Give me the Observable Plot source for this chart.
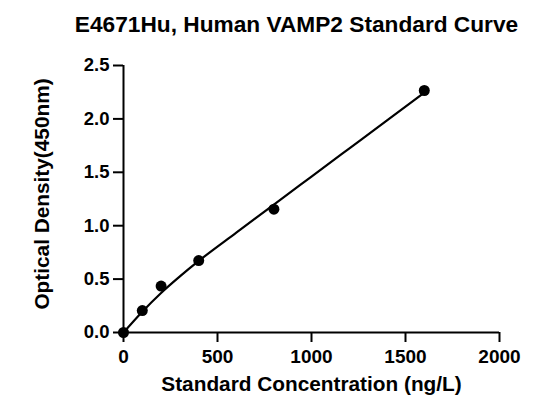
<!DOCTYPE html>
<html>
<head>
<meta charset="utf-8">
<script src="https://cdn.jsdelivr.net/npm/d3@7"></script>
<script src="https://cdn.jsdelivr.net/npm/@observablehq/plot@0.6"></script>
<style>
  html, body { margin: 0; padding: 0; background: #fff; }
  #wrap { width: 557px; height: 405px; font-family: "Liberation Sans", Arial, sans-serif; }
  #title { height: 40px; line-height: 48px; padding-left: 36px; text-align: center; font-weight: bold; font-size: 22.7px; color: #000; white-space: nowrap; }
</style>
</head>
<body>
<div id="wrap">
  <div id="title">E4671Hu, Human VAMP2 Standard Curve</div>
  <div id="chart"></div>
</div>
<script>
const concentration = [0, 100, 200, 400, 800, 1600];
const od = [0.0, 0.205, 0.435, 0.674, 1.155, 2.266];
const fitConc = [0, 100, 200, 300, 400, 600, 800, 1000, 1200, 1400, 1600];
const fitOD = [0, 0.195, 0.37, 0.525, 0.67, 0.935, 1.198, 1.46, 1.722, 1.984, 2.245];
const xTicks = [0, 500, 1000, 1500, 2000];
const yTicks = [0, 0.5, 1, 1.5, 2, 2.5];
const xLabel = "Standard Concentration (ng/L)";
const yLabel = "Optical Density(450nm)";

const points = concentration.map((c, i) => ({x: c, y: od[i]}));
const fit = fitConc.map((c, i) => ({x: c, y: fitOD[i]}));

const chart = Plot.plot({
  width: 557,
  height: 365,
  marginLeft: 123,
  marginRight: 58,
  marginTop: 25,
  marginBottom: 73,
  style: {fontFamily: '"Liberation Sans", Arial, sans-serif', color: "#000", background: "#fff", overflow: "visible"},
  x: {domain: [0, 2000]},
  y: {domain: [0, 2.5]},
  marks: [
    Plot.axisX({ticks: xTicks, tickSize: 10, tickPadding: 7, strokeWidth: 2, fontSize: 19, fontWeight: "bold", label: null, tickFormat: d => String(d)}),
    Plot.axisY({ticks: yTicks, tickSize: 10, tickPadding: 4, strokeWidth: 2, fontSize: 18.5, fontWeight: "bold", label: null, tickFormat: d3.format(".1f")}),
    Plot.ruleX([0], {strokeWidth: 2}),
    Plot.ruleY([0], {strokeWidth: 2}),
    Plot.line(fit, {x: "x", y: "y", curve: "monotone-x", strokeWidth: 2.2, stroke: "#000"}),
    Plot.dot(points, {x: "x", y: "y", r: 5.5, fill: "#000", stroke: "none"}),
    Plot.text([xLabel], {frameAnchor: "bottom", dy: 58, textAnchor: "middle", fontSize: 20.8, fontWeight: "bold", fill: "#000"}),
    Plot.text([yLabel], {frameAnchor: "left", dx: -81, dy: -5, textAnchor: "middle", rotate: -90, fontSize: 20.8, fontWeight: "bold", fill: "#000"})
  ]
});
document.getElementById("chart").appendChild(chart);
</script>
</body>
</html>
